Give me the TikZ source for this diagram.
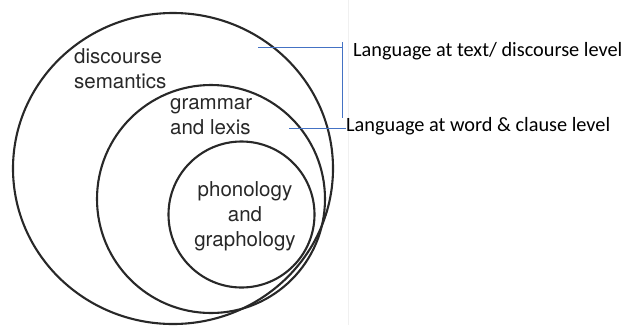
\documentclass[tikz,border=0pt]{standalone}
\usepackage{fontspec}
\setmainfont{TeX Gyre Heros}
\newfontfamily\notefont{Carlito}
\definecolor{ringgray}{RGB}{40,40,40}
\definecolor{leadblue}{RGB}{68,114,196}

\tikzset{
    ring/.style={draw=ringgray, line width=2.1pt},
    lvl/.style={inner sep=0pt, text=ringgray, font=\fontsize{20.5}{25}\selectfont},
    note/.style={inner sep=0pt, anchor=base west, font=\notefont\fontsize{20.3}{24}\selectfont},
    lead/.style={draw=leadblue, line width=0.9pt}
}

\begin{document}
\begin{tikzpicture}[x=1pt, y=-1pt]
    \useasboundingbox (0,0) rectangle (637,325);
    \draw[gray!12, line width=0.8pt] (348,0) -- (348,325); % edge of the pasted figure

    % Nested levels
    \draw[ring] (173,168.5) ellipse [x radius=160, y radius=155.5]; % Outer
    \draw[ring] (211,199) circle [radius=114]; % Middle
    \draw[ring] (241.5,214.5) circle [radius=73]; % Inner

    % base sits on the last line of each label
    \node[lvl, anchor=base west, align=left] (discLbl) at (74,88) {discourse\\semantics};
    \node[lvl, anchor=base west, align=left] (gramLbl) at (170,134) {grammar\\and lexis};
    \node[lvl, anchor=base, align=center] (phonLbl) at (245,246) {phonology\\and\\graphology};

    % Labels on the right
    \node[note] (textLbl) at (353,56) {Language at text/ discourse level};
    \node[note] (wordLbl) at (346,131) {Language at word \& clause level};

    \coordinate (discTip) at (258,47);
    \coordinate (barTop) at (342,42);
    \coordinate (barBot) at (342,118);
    \coordinate (gramTip) at (289,128);

    \draw[lead] (discTip) -- (discTip -| barTop); % Top leader
    \draw[lead] (barTop) -- (barBot); % Vertical bar
    \draw[lead] (gramTip) -- (gramTip -| wordLbl.west); % Lower leader
\end{tikzpicture}
\end{document}
